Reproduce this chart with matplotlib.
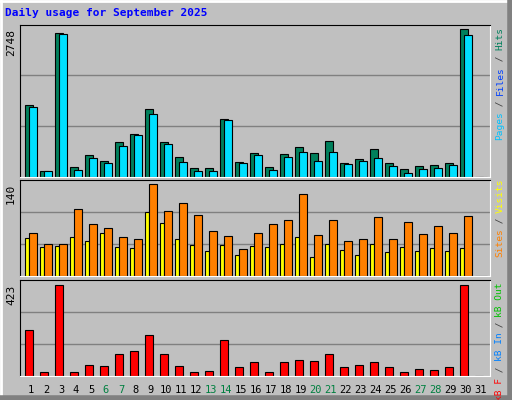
import numpy as np
import matplotlib
matplotlib.use("Agg")
import matplotlib.pyplot as plt

days = np.arange(1, 32)
hits = [1336, 106, 2678, 180, 404, 292, 646, 795, 1262, 646, 367, 162, 162, 1075, 274,
        441, 180, 423, 553, 441, 665, 255, 330, 516, 255, 143, 199, 218, 255, 2748, 0]
files = [1299, 106, 2660, 124, 348, 255, 572, 777, 1168, 609, 274, 106, 106, 1057, 255,
         404, 124, 367, 460, 292, 460, 236, 292, 348, 199, 68, 143, 162, 218, 2641, 0]
sites = [65, 49, 49, 102, 79, 73, 59, 56, 140, 99, 111, 93, 68, 61, 41,
         65, 79, 85, 125, 62, 85, 53, 56, 90, 56, 82, 64, 76, 65, 91, 0]
visits = [58, 44, 46, 59, 53, 65, 44, 43, 97, 81, 56, 47, 38, 47, 33,
          46, 44, 49, 59, 30, 49, 40, 33, 49, 37, 44, 38, 43, 38, 43, 0]
kbytes = [210, 15, 423, 15, 52, 43, 99, 117, 191, 99, 43, 15, 20, 168, 39,
          62, 15, 62, 71, 66, 99, 39, 48, 62, 39, 15, 29, 25, 39, 423, 0]
weekend = [6, 7, 13, 14, 20, 21, 27, 28]

W, H = 512, 400
BG = "#C0C0C0"
MONO = "DejaVu Sans Mono"

fig = plt.figure(figsize=(W / 100, H / 100), dpi=100, facecolor=BG)

# outer 3d border
fig.add_artist(plt.Line2D([0, 1], [1 - 1 / H, 1 - 1 / H], color="white", lw=2, transform=fig.transFigure))
fig.add_artist(plt.Line2D([1 / W, 1 / W], [0, 1], color="white", lw=2, transform=fig.transFigure))
fig.add_artist(plt.Line2D([0, 1], [2 / H, 2 / H], color="#808080", lw=4, transform=fig.transFigure))
fig.add_artist(plt.Line2D([1 - 2 / W, 1 - 2 / W], [0, 1], color="#808080", lw=4, transform=fig.transFigure))

fig.text(5 / W, 1 - 16 / H, "Daily usage for September 2025", family=MONO, weight="bold",
         color="#0000FF", fontsize=8, va="baseline")

left, right = 20 / W, 490 / W


def panel(top_px, bot_px, ymax, label):
    ax = fig.add_axes([left, 1 - bot_px / H, right - left, (bot_px - top_px) / H])
    ax.set_facecolor(BG)
    ax.set_xlim(0.267, 31.6)
    ax.set_ylim(0, ymax)
    for s in ("left", "top"):
        ax.spines[s].set_color("black")
    for s in ("right", "bottom"):
        ax.spines[s].set_color("white")
    for f in (1 / 3, 2 / 3):
        ax.plot([0, 1], [f, f], transform=ax.transAxes, color="#808080", lw=1, zorder=0)
    ax.set_xticks([])
    ax.set_yticks([])
    ax.text(-9 / 470, 1 - 4 / (bot_px - top_px), label, transform=ax.transAxes, rotation=90,
            family=MONO, fontsize=8, ha="center", va="top")
    return ax


def side_label(top_px, parts):
    # parts from bottom to top: (text, color); text hangs from the panel top
    cw = 5.6
    total = sum(len(t) for t, _ in parts) * cw
    y = top_px + 3 + total
    for t, c in parts:
        fig.text(500 / W, 1 - y / H, t, rotation=90, family=MONO, fontsize=6.8, color=c,
                 ha="center", va="bottom")
        y -= len(t) * cw


ax1 = panel(24.5, 176.7, 2828, "2748")
ax1.bar(days - 0.145, hits, width=0.51, color="#00805C", edgecolor="black", lw=0.8)
ax1.bar(days + 0.125, files, width=0.51, color="#00E0FF", edgecolor="black", lw=0.8)
side_label(25, [("Pages", "#00C0FF"), (" / ", "#404040"), ("Files", "#0040FF"),
                (" / ", "#404040"), ("Hits", "#00805C")])

ax2 = panel(180, 276.3, 146, "140")
ax2.bar(days - 0.255, visits, width=0.29, color="#FFFF00", edgecolor="black", lw=0.8)
ax2.bar(days + 0.125, sites, width=0.51, color="#FF8000", edgecolor="black", lw=0.8)
side_label(176, [("Sites", "#FF8000"), (" / ", "#404040"), ("Visits", "#FFFF00")])

ax3 = panel(280.3, 375.7, 443, "423")
ax3.bar(days - 0.145, kbytes, width=0.51, color="#FF0000", edgecolor="black", lw=0.8)
side_label(280, [("kB F", "#FF0000"), (" / ", "#404040"), ("kB In", "#0080FF"),
                 (" / ", "#404040"), ("kB Out", "#00C000")])

for d in days:
    ax3.text(d, -0.145, str(d), transform=ax3.get_xaxis_transform(), family=MONO, fontsize=7.5,
             ha="center", va="center", color="#008040" if d in weekend else "black")

fig.savefig("out.png", dpi=100, facecolor=BG)
